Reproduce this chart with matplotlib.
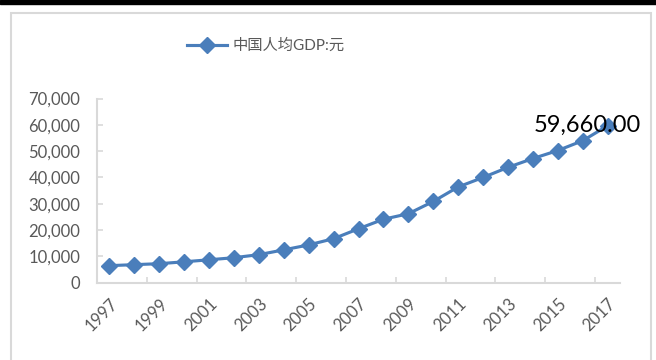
import matplotlib
matplotlib.use('Agg')
import matplotlib.pyplot as plt
from matplotlib.patches import Rectangle
from matplotlib.ticker import FuncFormatter

# data
years = [str(y) for y in range(1997, 2018)]
gdp_per_capita = [6481, 6860, 7229, 7942, 8717, 9506, 10666, 12487, 14368, 16738,
                  20505, 24121, 26222, 30876, 36403, 40007, 43852, 47203, 50251,
                  53980, 59660]
series_name = '中国人均GDP:元'

plt.rcParams['font.family'] = ['Lato', 'Noto Sans CJK SC', 'DejaVu Sans']

blue = '#4A7EBB'
gray_txt = '#595959'
gray_line = '#D9D9D9'

fig = plt.figure(figsize=(6.56, 3.6), dpi=100)
ax = fig.add_axes([97 / 656, 1 - 282.7 / 360, (620 - 97) / 656, (282.7 - 98.6) / 360])

# outer chart frame and top dark band
fig.patches.append(Rectangle((10.5 / 656, -0.1), (651 - 10.5) / 656, 1.1 - 12.5 / 360,
                             transform=fig.transFigure, fill=False,
                             edgecolor=gray_line, lw=1.5))
fig.patches.append(Rectangle((0, 1 - 4 / 360), 1, 4 / 360,
                             transform=fig.transFigure, color='black'))

x = list(range(len(years)))
line, = ax.plot(x, gdp_per_capita, color=blue, lw=2.25, marker='D', ms=8.5,
                mec=blue, mfc=blue, label=series_name)

ax.annotate(f'{gdp_per_capita[-1]:,.2f}', (x[-1], gdp_per_capita[-1]),
            xytext=(24, 0), textcoords='offset points', ha='right', va='center',
            fontsize=17, color='black')

ax.set_xlim(-0.5, len(years) - 0.5)
ax.set_ylim(0, 70000)
ax.set_yticks(range(0, 70001, 10000))
ax.yaxis.set_major_formatter(FuncFormatter(lambda v, p: f'{int(v):,}'))

# ticks between categories, labels every other year
ax.set_xticks([i - 0.5 for i in range(0, len(years) + 1, 2)])
ax.set_xticklabels([])
ax.set_xticks(x[::2], minor=True)
ax.set_xticklabels(years[::2], minor=True, rotation=45, ha='right', va='top',
                   rotation_mode='anchor')
ax.tick_params(axis='x', which='minor', length=0, pad=9, labelsize=12, labelcolor=gray_txt)
ax.tick_params(axis='x', which='major', direction='in', length=4, color=gray_line, width=1.2)
ax.tick_params(axis='y', direction='in', length=4, color=gray_line, width=1.2,
               labelsize=12, labelcolor=gray_txt, pad=12)

for s in ['top', 'right']:
    ax.spines[s].set_visible(False)
for s in ['left', 'bottom']:
    ax.spines[s].set_color(gray_line)
    ax.spines[s].set_linewidth(1.5)

leg = fig.legend(handles=[line], loc='center', bbox_to_anchor=(266 / 656, 1 - 46 / 360),
                 frameon=False, fontsize=11, handlelength=2.6, handletextpad=0.35,
                 labelcolor=gray_txt)

fig.savefig('out.png', dpi=100)
